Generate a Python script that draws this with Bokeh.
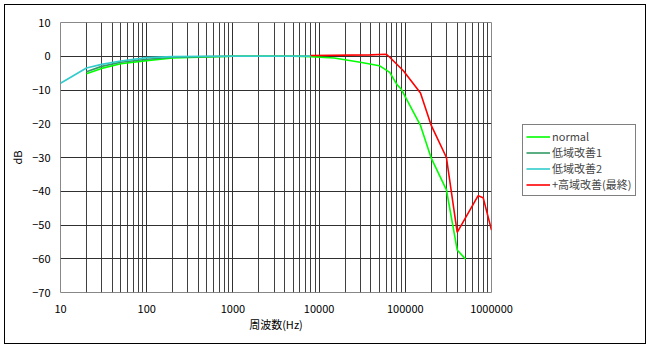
from bokeh.plotting import figure
from bokeh.layouts import row
from bokeh.models import (FixedTicker, PrintfTickFormatter, Legend, LegendItem,
                          Range1d, InlineStyleSheet)
from bokeh.embed import file_html
from bokeh.resources import INLINE

FONT = "Noto Sans CJK JP"

# ---- data ----
freq_normal = [20, 30, 50, 100, 200, 500, 1000, 2000, 5000, 8000, 15000, 30000,
               50000, 66000, 80000, 90000, 150000, 200000, 300000, 400000, 500000]
db_normal = [-5.2, -3.6, -2.2, -1.3, -0.5, -0.2, 0.0, 0.0, 0.0, -0.1, -0.5, -1.8,
             -2.8, -4.8, -8.4, -9.8, -20.5, -30.2, -39.6, -57.4, -60.1]

freq_low1 = [20, 30, 50, 100, 200, 500, 1000, 2000, 5000, 8000]
db_low1 = [-4.6, -3.0, -1.8, -0.9, -0.3, -0.1, 0.0, 0.0, 0.0, 0.0]

freq_low2 = [10, 20, 30, 50, 100, 200, 500, 1000, 2000, 5000, 8000]
db_low2 = [-8.0, -3.5, -2.4, -1.4, -0.4, -0.1, 0.0, 0.0, 0.0, 0.0, 0.0]

freq_final = [8000, 40000, 60000, 66000, 95000, 150000, 200000, 300000, 400000,
              700000, 800000, 1000000]
db_final = [0.2, 0.4, 0.6, -0.3, -4.3, -10.9, -20.5, -30.0, -52.2, -41.3, -41.9, -51.5]

series_names = ["normal", "低域改善1", "低域改善2", "+高域改善(最終)"]
series_colors = ["#00FF00", "#339966", "#33CCCC", "#FF0000"]

x_major = [10, 100, 1000, 10000, 100000, 1000000]
x_minor = [m * d for d in [10, 100, 1000, 10000, 100000] for m in range(2, 10)]
y_ticks = [-70, -60, -50, -40, -30, -20, -10, 0, 10]

p = figure(frame_width=431, frame_height=270, x_axis_type="log", output_backend="svg",
           toolbar_location=None,
           x_range=Range1d(10, 1000000), y_range=Range1d(-70, 10),
           min_border_left=60, min_border_right=29,
           min_border_top=22, min_border_bottom=56)
p.background_fill_color = "white"
p.border_fill_color = "white"
p.outline_line_color = "#888888"

p.xaxis.ticker = FixedTicker(ticks=x_major, minor_ticks=x_minor)
p.xaxis.formatter = PrintfTickFormatter(format="%d")
p.yaxis.ticker = FixedTicker(ticks=y_ticks)

for ax in (p.xaxis, p.yaxis):
    ax.axis_line_color = None
    ax.major_tick_line_color = None
    ax.minor_tick_line_color = None
    ax.major_tick_in = 0
    ax.major_tick_out = 0
    ax.minor_tick_in = 0
    ax.minor_tick_out = 0
    ax.major_label_text_font = FONT
    ax.major_label_text_font_size = "11px"
    ax.major_label_text_color = "black"
    ax.axis_label_text_font = FONT
    ax.axis_label_text_font_size = "11px"
    ax.axis_label_text_font_style = "normal"
    ax.axis_label_text_color = "black"

p.xaxis.major_label_standoff = 12
p.xaxis.axis_label = "周波数(Hz)"
p.xaxis.axis_label_standoff = 0
p.yaxis.major_label_standoff = 10
p.yaxis.axis_label = "dB"
p.yaxis.axis_label_standoff = 4

p.xgrid.grid_line_color = "#303030"
p.xgrid.minor_grid_line_color = "#404040"
p.ygrid.grid_line_color = "#303030"
p.xgrid.grid_line_width = 1
p.ygrid.grid_line_width = 1

data = [(freq_normal, db_normal), (freq_low1, db_low1), (freq_low2, db_low2),
        (freq_final, db_final)]
for (fx, dy), name, col in zip(data, series_names, series_colors):
    p.line(fx, dy, line_color=col, line_width=1.6)

# legend panel (its own lines lie outside its ranges, only the legend shows)
p2 = figure(width=130, height=348, output_backend="svg", toolbar_location=None,
            x_axis_location=None, y_axis_location=None,
            x_range=Range1d(-20, -10), y_range=Range1d(-200, -100),
            min_border=0, min_border_left=0, min_border_right=0,
            min_border_top=0, min_border_bottom=0)
p2.grid.visible = False
p2.outline_line_color = None
p2.background_fill_color = "white"
p2.border_fill_color = "white"
items = []
for (fx, dy), name, col in zip(data, series_names, series_colors):
    r = p2.line(fx, dy, line_color=col, line_width=1.6)
    items.append(LegendItem(label=name, renderers=[r]))

legend = Legend(items=items, location=(2, 96))
legend.label_text_font = FONT
legend.label_text_font_size = "11px"
legend.label_height = 15
legend.glyph_height = 15
legend.glyph_width = 24
legend.label_standoff = 2
legend.spacing = 0
legend.padding = 3
legend.margin = 0
legend.border_line_color = "black"
legend.border_line_width = 1
legend.background_fill_color = "white"
legend.background_fill_alpha = 1
p2.add_layout(legend, "center")

layout = row(p, p2, spacing=0)
layout.stylesheets = [InlineStyleSheet(css="""
:host { position: relative; }
:host::after { content: ""; position: absolute; left: 4px; top: 4px;
  width: 640px; height: 338px; border: 1px solid black;
  pointer-events: none; z-index: 1000; }
""")]

open("out.html", "w").write(file_html(layout, INLINE))
